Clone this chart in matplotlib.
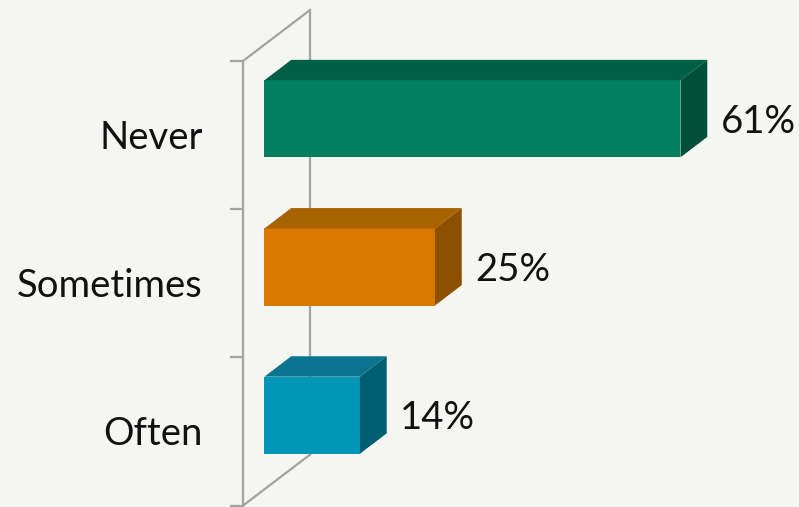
import numpy as np
import matplotlib.pyplot as plt
from matplotlib.patches import Polygon

categories = ["Never", "Sometimes", "Often"]
values = [61, 25, 14]
labels = ["61%", "25%", "14%"]

front_colors = ["#017f5f", "#d97800", "#0096b8"]
top_colors = ["#006045", "#a86200", "#0a7390"]
side_colors = ["#004f38", "#8c5000", "#005e73"]

BG = "#f5f6f2"
WALL = "#a3a3a3"

# oblique projection of the depth axis (in data units per unit depth)
DX = 9.82
DY = -0.344
D0, D1 = 0.32, 0.72   # depth span of the bars
H = 0.52              # bar thickness as a share of the category slot


def proj(x, y, d):
    return (x + DX * d, y + DY * d)


plt.rcParams['font.family'] = ['Lato', 'DejaVu Sans']

fig = plt.figure(figsize=(7.99, 5.07), dpi=100, facecolor=BG)
ax = fig.add_axes([0, 0, 1, 1])
ax.set_facecolor(BG)
ax.set_xlim(-35.63, 81.52)
ax.set_ylim(3.0094, -0.4116)
ax.axis("off")

n = len(categories)

# wall / axis lines
ax.plot([0, 0], [0, n + 0.02], color=WALL, lw=1.6, zorder=1, solid_capstyle="butt")
bx, by0 = proj(0, 0, 1)
_, by1 = proj(0, n, 1)
ax.plot([bx, bx], [by0, by1], color=WALL, lw=1.6, zorder=1)
for yy in (0, n):
    px, py = proj(0, yy, 1)
    ax.plot([0, px], [yy, py], color=WALL, lw=1.6, zorder=1)
for k in range(n + 1):
    ax.plot([-1.76, 0], [k, k], color=WALL, lw=1.6, zorder=1)

for i, (cat, v) in enumerate(zip(categories, values)):
    yt = i + (1 - H) / 2
    yb = i + (1 + H) / 2
    x0f, ytf = proj(0, yt, D0)
    ax.barh(ytf + H / 2, v, left=x0f, height=H, color=front_colors[i],
            edgecolor="none", zorder=3)
    top = [proj(0, yt, D0), proj(v, yt, D0), proj(v, yt, D1), proj(0, yt, D1)]
    side = [proj(v, yt, D0), proj(v, yb, D0), proj(v, yb, D1), proj(v, yt, D1)]
    ax.add_patch(Polygon(top, closed=True, facecolor=top_colors[i],
                         edgecolor="none", zorder=3))
    ax.add_patch(Polygon(side, closed=True, facecolor=side_colors[i],
                         edgecolor="none", zorder=3))

    ax.text(-5.87, i + 0.52, cat, ha="right", va="center", fontsize=27.5,
            color="#111111")
    lx, ly = proj(v, i + 0.52, D0)
    ax.text(lx + 5.9, ly, labels[i], ha="left", va="center", fontsize=27.5,
            color="#111111")

fig.savefig("out.png", dpi=100, facecolor=BG)
